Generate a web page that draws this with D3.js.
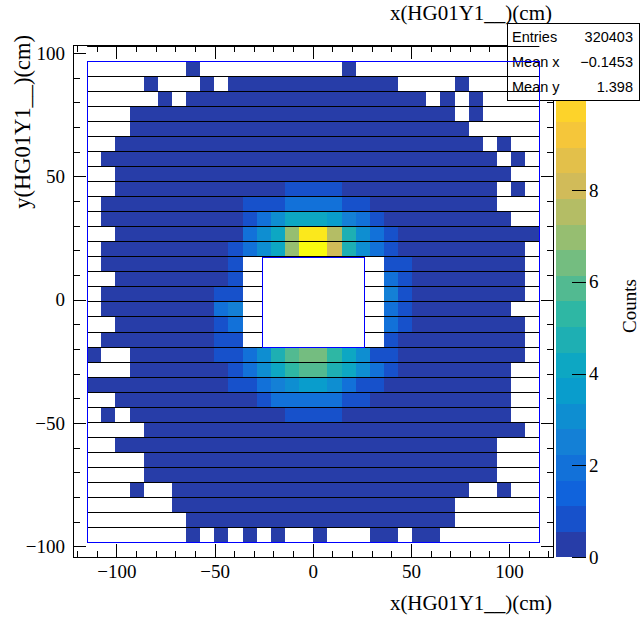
<!DOCTYPE html>
<html><head><meta charset="utf-8">
<script src="https://cdn.jsdelivr.net/npm/d3@7"></script>
<style>body{margin:0;background:#fff}svg{display:block}</style>
</head><body><svg id="c" width="643" height="617"></svg>
<script>
// ---------------- data ----------------
const histTitle = "x(HG01Y1__)(cm)";
const xTitle = "x(HG01Y1__)(cm)";
const yTitle = "y(HG01Y1__)(cm)";
const zTitle = "Counts";
const xRange = [-122.4, 122.4];
const yRange = [-104.3, 103.2];
const nBinsX = 34;
const nBinsY = 34;
const xTickLabels = [-100, -50, 0, 50, 100];
const yTickLabels = [-100, -50, 0, 50, 100];
const zTickLabels = [0, 2, 4, 6, 8];
const zMax = 11.14;
const nContours = 20;
const statNames = ["Entries", "Mean x", "Mean y"];
const statValues = ["320403", "\u22120.1453", "1.398"];
const codeValue = {".":0, a:0.3, b:0.8, c:1.4, d:1.9, e:2.5, f:3.1, g:3.6, h:4.2, i:4.7,
  j:5.3, k:5.8, l:6.4, m:7.0, n:7.5, o:8.1, p:8.6, q:9.2, r:9.7, s:10.3, t:10.9};
// rows from top (y bin 33) to bottom (y bin 2); columns x bins 2..33
const rows = [
  ".......a ........ ..a..... ........",
  "....a... a.aaaaaa aaaaaa.. ..a.....",
  ".....a.a aaaaaaaa aaaaaaaa .a.a....",
  "...aaaaa aaaaaaaa aaaaaaaa aa.a....",
  "...aaaaa aaaaaaaa aaaaaaaa aaa.....",
  "..aaaaaa aaaaaaaa aaaaaaaa aaaa.a..",
  ".aaaaaaa aaaaaaaa aaaaaaaa aaaaa.a.",
  "..aaaaaa aaaaaaaa aaaaaaaa aaaaaa..",
  "..aaaaaa aaaaaabb bbaaaaaa aaaaa.a.",
  ".aaaaaaa aaabbbdd ddbbaaaa aaaaa...",
  ".aaaaaaa aaabdfhh hgedbaaa aaaaaa..",
  "..aaaaaa aaadfhms snifdbaa aaaaaaaa",
  ".aaaaaaa aabdfhmt toifdbaa aaaaaaa.",
  ".aaaaaaa aab..... .....bba aaaaaaa.",
  "..aaaaaa aab..... .....dba aaaaaaa.",
  ".aaaaaaa abb..... .....eba aaaaaaa.",
  ".aaaaaaa ade..... .....dba aaaaaa..",
  "..aaaaaa abd..... .....dba aaaaaaa.",
  ".aaaaaaa abb..... .....baa aaaaaaa.",
  "a..aaaaa abbdfikl ljhfbbaa aaaaaaa.",
  "...aaaaa aabdfhjk kihfdbaa aaaaaa..",
  "aaaaaaaa aabbdefg gfdbbaaa aaaaaa..",
  "..aaaaaa aaaabddd ddbbaaaa aaaaaa..",
  ".a.aaaaa aaaaaabb bbaaaaaa aaaaaa..",
  "....aaaa aaaaaaaa aaaaaaaa aaaaaaa.",
  "..aaaaaa aaaaaaaa aaaaaaaa aaaaa...",
  "....aaaa aaaaaaaa aaaaaaaa aaaaa...",
  "....aaaa aaaaaaaa aaaaaaaa aaaaa...",
  "...a..aa aaaaaaaa aaaaaaaa aaa..a..",
  "......aa aaaaaaaa aaaaaaaa aa......",
  ".......a aaaaaaaa aaaaaaaa aa......",
  ".......a .a.a.a.. a...aa.a a......."
];
// detector beam hole (cm)
const holeX = [-26, 26];
const holeY = [-18.9, 17.3];

// kBird palette stops
const birdStops = [0.0, 0.125, 0.25, 0.375, 0.5, 0.625, 0.75, 0.875, 1.0];
const birdR = [0.2082, 0.0592, 0.0780, 0.0232, 0.1802, 0.5301, 0.8186, 0.9956, 0.9764];
const birdG = [0.1664, 0.3599, 0.5041, 0.6419, 0.7178, 0.7492, 0.7328, 0.7862, 0.9832];
const birdB = [0.5293, 0.8684, 0.8385, 0.7914, 0.6425, 0.4662, 0.3499, 0.1968, 0.0539];

// ---------------- layout ----------------
const F = {l: 73, r: 553.5, t: 45.5, b: 557.3};
const bar = {l: 555.5, r: 586};
const serif = "'Liberation Serif','Times New Roman',serif";
const sans = "'Liberation Sans',Arial,sans-serif";

const svg = d3.select("#c");
const x = d3.scaleLinear().domain(xRange).range([F.l, F.r]);
const y = d3.scaleLinear().domain(yRange).range([F.b, F.t]);
const dx = (xRange[1] - xRange[0]) / nBinsX;
const dy = (yRange[1] - yRange[0]) / nBinsY;

const rR = d3.scaleLinear().domain(birdStops).range(birdR);
const rG = d3.scaleLinear().domain(birdStops).range(birdG);
const rB = d3.scaleLinear().domain(birdStops).range(birdB);
function bird(t) { return d3.rgb(rR(t) * 255, rG(t) * 255, rB(t) * 255).formatHex(); }
const contourColors = d3.range(nContours).map(k => bird(Math.floor((k + 0.99) * 255 / nContours) / 254));
const zColor = d3.scaleQuantize().domain([0, zMax]).range(contourColors);

// cells
const cells = [];
rows.forEach((row, r) => {
  const codes = row.replace(/ /g, "");
  if (codes.length !== 32) throw new Error("row " + r + " length " + codes.length);
  codes.split("").forEach((ch, c) => {
    const v = codeValue[ch];
    if (v > 0) cells.push({ix: c + 1, iy: nBinsY - 2 - r, v});
  });
});
svg.append("g").attr("shape-rendering", "crispEdges").selectAll("rect").data(cells).join("rect")
  .attr("x", d => x(xRange[0] + d.ix * dx))
  .attr("y", d => y(yRange[0] + (d.iy + 1) * dy))
  .attr("width", d => x(xRange[0] + (d.ix + 1) * dx) - x(xRange[0] + d.ix * dx))
  .attr("height", d => y(yRange[0] + d.iy * dy) - y(yRange[0] + (d.iy + 1) * dy))
  .attr("fill", d => zColor(Math.min(d.v, zMax - 1e-6)));

// frame
const ax = svg.append("g").attr("stroke", "#000").attr("stroke-width", 1).attr("shape-rendering", "crispEdges");
ax.append("rect").attr("x", F.l).attr("y", F.t).attr("width", F.r - F.l).attr("height", F.b - F.t).attr("fill", "none");
const xt = d3.range(-120, 121, 10);
const yt = d3.range(-100, 101, 10);
const len = v => (v % 50 === 0 ? 13 : 6.5);
xt.forEach(v => {
  ax.append("line").attr("x1", x(v)).attr("x2", x(v)).attr("y1", F.b).attr("y2", F.b - len(v));
  ax.append("line").attr("x1", x(v)).attr("x2", x(v)).attr("y1", F.t).attr("y2", F.t + len(v));
});
yt.forEach(v => {
  ax.append("line").attr("y1", y(v)).attr("y2", y(v)).attr("x1", F.l).attr("x2", F.l + len(v));
  ax.append("line").attr("y1", y(v)).attr("y2", y(v)).attr("x1", F.r).attr("x2", F.r - len(v));
});
const fmt = d3.format("");
svg.append("g").selectAll("text").data(xTickLabels).join("text")
  .attr("x", d => x(d)).attr("y", 578).attr("text-anchor", "middle")
  .attr("font-family", serif).attr("font-size", 19).text(d => fmt(d));
svg.append("g").selectAll("text").data(yTickLabels).join("text")
  .attr("x", 65).attr("y", d => y(d)).attr("dy", "0.33em").attr("text-anchor", "end")
  .attr("font-family", serif).attr("font-size", 19).text(d => fmt(d));
svg.append("text").attr("x", 552).attr("y", 610).attr("text-anchor", "end")
  .attr("font-family", serif).attr("font-size", 21).text(xTitle);
svg.append("text").attr("transform", "translate(30,35) rotate(-90)").attr("text-anchor", "end")
  .attr("font-family", serif).attr("font-size", 22.5).text(yTitle);
svg.append("text").attr("x", 552).attr("y", 20).attr("text-anchor", "end")
  .attr("font-family", serif).attr("font-size", 21).text(histTitle);

// palette
const z = d3.scaleLinear().domain([0, zMax]).range([F.b, F.t]);
const bandW = zMax / nContours;
svg.append("g").selectAll("rect").data(contourColors).join("rect")
  .attr("x", bar.l).attr("width", bar.r - bar.l)
  .attr("y", (d, k) => z((k + 1) * bandW)).attr("height", (d, k) => z(k * bandW) - z((k + 1) * bandW))
  .attr("fill", d => d).attr("shape-rendering", "crispEdges");
const zg = svg.append("g");
zTickLabels.forEach(v => {
  zg.append("line").attr("x1", bar.r - 14).attr("x2", bar.r).attr("y1", Math.round(z(v)) + 0.5).attr("y2", Math.round(z(v)) + 0.5)
    .attr("stroke", "#000");
  zg.append("text").attr("x", bar.r + 3).attr("y", z(v)).attr("dy", "0.36em")
    .attr("font-family", serif).attr("font-size", 19).text(fmt(v));
});
svg.append("text").attr("transform", "translate(636,306) rotate(-90)").attr("text-anchor", "middle")
  .attr("font-family", serif).attr("font-size", 19).text(zTitle);

// stats box
const sb = {l: 507, t: 23.5, r: 639, b: 100.5};
svg.append("rect").attr("x", sb.l).attr("y", sb.t).attr("width", sb.r - sb.l).attr("height", sb.b - sb.t)
  .attr("fill", "#fff").attr("stroke", "#000").attr("shape-rendering", "crispEdges");
statNames.forEach((n, i) => {
  svg.append("text").attr("x", 512).attr("y", 42 + i * 25).attr("font-family", sans).attr("font-size", 14.5).text(n);
  svg.append("text").attr("x", 633).attr("y", 42 + i * 25).attr("text-anchor", "end")
    .attr("font-family", sans).attr("font-size", 14.5).text(statValues[i]);
});

// detector outline (drawn last, over the stats box): slab lines, outer box, beam hole
const det = svg.append("g");
const detX = [xRange[0] + dx, xRange[1] - dx];
const detY = [yRange[0] + dy, yRange[1] - dy];
d3.range(-1, rows.length).filter(k => k !== 0).forEach(k => {
  const yy = Math.round(y(detY[1] - k * dy)) + 0.5;
  det.append("line").attr("x1", x(detX[0])).attr("x2", x(detX[1])).attr("y1", yy).attr("y2", yy)
    .attr("stroke", "#000").attr("stroke-width", 1);
});
det.append("rect").attr("x", Math.round(x(detX[0])) + 0.5).attr("y", Math.round(y(detY[1])) + 0.5)
  .attr("width", Math.round(x(detX[1])) - Math.round(x(detX[0])))
  .attr("height", Math.round(y(detY[0])) - Math.round(y(detY[1])))
  .attr("fill", "none").attr("stroke", "#0000ff");
det.append("rect").attr("x", Math.round(x(holeX[0])) + 0.5).attr("y", Math.round(y(holeY[1])) + 0.5)
  .attr("width", Math.round(x(holeX[1])) - Math.round(x(holeX[0])))
  .attr("height", Math.round(y(holeY[0])) - Math.round(y(holeY[1])))
  .attr("fill", "#fff").attr("stroke", "#0000ff");
</script></body></html>
